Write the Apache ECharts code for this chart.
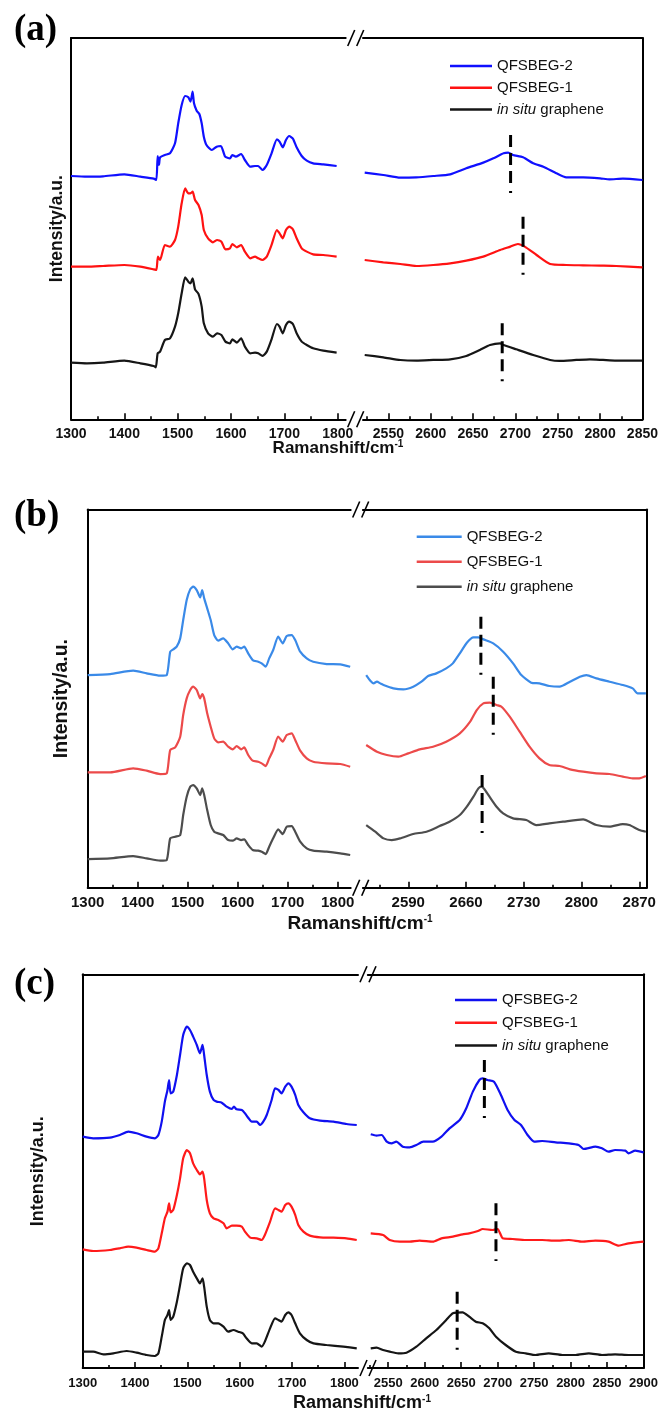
<!DOCTYPE html>
<html><head><meta charset="utf-8">
<script src="https://cdn.jsdelivr.net/npm/echarts@6.0.0/dist/echarts.min.js"></script>
<style>html,body{margin:0;padding:0;background:#fff}#c{width:661px;height:1416px}</style>
</head><body><div id="c"></div>
<script>
// ---------- DATA (x: Raman shift cm-1, y: intensity a.u. with vertical offsets) ----------
const seriesNames = ['QFSBEG-2', 'QFSBEG-1', 'in situ graphene'];

// Panel (a)
const a_ticks_left = [1300, 1400, 1500, 1600, 1700, 1800];
const a_minor_left = [1350, 1450, 1550, 1650, 1750];
const a_ticks_right = [2550, 2600, 2650, 2700, 2750, 2800, 2850];
const a_minor_right = [2525, 2575, 2625, 2675, 2725, 2775, 2825];
const a_blue_left = [[1300,730],[1330,728],[1360,729],[1400,735],[1430,728],[1455,722],[1460,718],[1462.5,790],[1465,763],[1467,786],[1476,793],[1485.6,798],[1495,828],[1501,888],[1507.5,943],[1514,970],[1520,966],[1524,953],[1528,983],[1530.6,948],[1535.6,926],[1540.6,916],[1545,888],[1549,848],[1554,823],[1564,808],[1573,818],[1581,820],[1589,788],[1598,783],[1602.5,793],[1609,788],[1619,796],[1626,778],[1636,758],[1645,760],[1651,760],[1659,748],[1667,763],[1676,798],[1686,840],[1691,833],[1697,816],[1703,838],[1709,850],[1716,842],[1723,816],[1732.5,790],[1742,776],[1754,768],[1773,765],[1798,760]];
const a_red_left = [[1300,458],[1330,458],[1360,460],[1400,463],[1430,458],[1455,450],[1460,448],[1463,488],[1467,478],[1476,523],[1485.6,518],[1495,538],[1501,578],[1507.5,648],[1514,693],[1520,678],[1524,678],[1528,683],[1532.5,658],[1539,643],[1545,613],[1549,568],[1557,543],[1566,531],[1574,538],[1582,533],[1589.5,510],[1598,513],[1602.5,526],[1611,516],[1619,523],[1626,503],[1636,483],[1645,488],[1651,483],[1659,478],[1667,488],[1676,523],[1686,568],[1691,558],[1697,543],[1703,568],[1709,578],[1716,570],[1723,543],[1732.5,513],[1742,503],[1754,495],[1773,493],[1798,488]];
const a_black_left = [[1300,170],[1330,168],[1360,170],[1400,176],[1430,168],[1455,160],[1459,156],[1462.5,198],[1467,203],[1476,238],[1485.6,243],[1495,278],[1501,318],[1507.5,378],[1514,426],[1520,413],[1524,408],[1528,423],[1532.5,390],[1539,376],[1545,338],[1549,288],[1557,258],[1566,248],[1574,258],[1582,253],[1589.5,233],[1598,228],[1602.5,240],[1611,230],[1619,243],[1626,218],[1636,198],[1645,200],[1651,198],[1659,190],[1667,203],[1676,240],[1686,286],[1691,278],[1697,258],[1703,283],[1709,293],[1716,286],[1723,258],[1732.5,233],[1742,223],[1754,213],[1773,206],[1798,200]];
const a_blue_right = [[2522,740],[2544,733],[2564,725],[2583,726],[2603,730],[2623,735],[2642,753],[2662,770],[2674,783],[2686,798],[2691.5,800],[2697,793],[2709,786],[2721,768],[2733,758],[2748.5,738],[2760,726],[2780,726],[2800,723],[2811,720],[2827,722],[2850,718]];
const a_red_right = [[2522,478],[2544,471],[2564,466],[2583,460],[2603,463],[2623,468],[2642,476],[2662,488],[2682,508],[2694,518],[2703,526],[2711,518],[2725,493],[2741,466],[2760,463],[2780,462],[2800,461],[2819,460],[2850,456]];
const a_black_right = [[2522,193],[2544,186],[2564,178],[2583,176],[2603,178],[2623,180],[2642,190],[2658,208],[2670,223],[2682,228],[2686,223],[2701,210],[2721,193],[2741,178],[2752,175],[2772,178],[2788,180],[2803.5,178],[2819,176],[2850,176]];
const a_peaks = [[2694.3,853,678],[2709,608,428],[2684.4,288,108]]; // [shift, top, bottom]

// Panel (b)
const b_ticks_left = [1300, 1400, 1500, 1600, 1700, 1800];
const b_minor_left = [1350, 1450, 1550, 1650, 1750];
const b_ticks_right = [2590, 2660, 2730, 2800, 2870];
const b_minor_right = [2555, 2625, 2695, 2765, 2835];
const b_blue_left = [[1300,638],[1345,641],[1391,651],[1418,643],[1445,636],[1458,638],[1465,708],[1471,715],[1478,723],[1485,748],[1491,803],[1498,863],[1505,895],[1511,903],[1518,893],[1525,871],[1529,893],[1533,868],[1539,838],[1546,803],[1553,758],[1561,741],[1571,748],[1581,733],[1590,715],[1598,723],[1607,718],[1613,723],[1621,703],[1630,683],[1641,678],[1648,673],[1656,663],[1663,688],[1671,713],[1681,753],[1690,733],[1698,755],[1708,758],[1715,743],[1725,708],[1738,688],[1751,678],[1778,671],[1805,670],[1825,663]];
const b_red_left = [[1300,346],[1345,346],[1391,358],[1418,351],[1445,341],[1458,343],[1465,413],[1475,421],[1485,453],[1491,518],[1498,568],[1505,593],[1511,603],[1518,593],[1525,568],[1529,581],[1533,568],[1539,523],[1546,483],[1553,448],[1561,436],[1571,438],[1581,423],[1590,415],[1598,425],[1607,415],[1613,421],[1621,398],[1630,381],[1641,378],[1648,373],[1656,365],[1663,388],[1671,413],[1681,453],[1690,438],[1698,458],[1708,463],[1715,443],[1725,411],[1738,388],[1751,378],[1778,373],[1805,371],[1825,363]];
const b_black_left = [[1300,86],[1345,88],[1391,95],[1418,88],[1445,81],[1458,83],[1465,148],[1475,153],[1485,158],[1491,218],[1498,273],[1505,303],[1511,308],[1518,298],[1525,278],[1529,298],[1533,278],[1539,233],[1546,188],[1553,168],[1561,163],[1571,158],[1581,143],[1590,141],[1598,148],[1607,143],[1613,145],[1621,128],[1630,113],[1641,111],[1648,108],[1656,101],[1663,123],[1671,148],[1681,175],[1690,161],[1698,183],[1708,185],[1715,168],[1725,138],[1738,118],[1751,111],[1778,108],[1805,103],[1825,98]];
const b_blue_right = [[2539,638],[2544,621],[2548,613],[2552,618],[2556,613],[2560,608],[2572,598],[2584,595],[2596,603],[2606,618],[2614,635],[2624,643],[2636,658],[2644,673],[2652.5,703],[2661,735],[2669,751],[2675,751],[2681,745],[2693,733],[2705,708],[2717,673],[2727,638],[2739,615],[2749,613],[2761,605],[2773.5,603],[2786,618],[2798,633],[2806,638],[2818,628],[2834,618],[2850,608],[2862,598],[2868,583],[2878,583]];
const b_red_right = [[2539,428],[2552,408],[2564,398],[2578,393],[2590,403],[2604,415],[2620,423],[2636,438],[2652.5,463],[2665,498],[2673,533],[2681,553],[2689,555],[2697,548],[2703,543],[2713,513],[2725,468],[2737,423],[2749,388],[2761,368],[2773.5,365],[2786,355],[2802,348],[2818,343],[2834,341],[2850,333],[2862,328],[2870,328],[2878,335]];
const b_black_right = [[2539,188],[2550,168],[2560,148],[2570,143],[2580,148],[2596,161],[2612,168],[2628,185],[2640,198],[2652.5,218],[2661,243],[2669,273],[2675,298],[2679,303],[2683,293],[2689,271],[2697,243],[2705,223],[2717,208],[2733,203],[2745,188],[2761,193],[2777.6,198],[2802,205],[2818,188],[2834,183],[2850,191],[2858,188],[2870,173],[2878,168]];
const b_peaks = [[2678,813,638],[2693,633,458],[2679.5,338,163]];

// Panel (c)
const c_ticks_left = [1300, 1400, 1500, 1600, 1700, 1800];
const c_minor_left = [1350, 1450, 1550, 1650, 1750];
const c_ticks_right = [2550, 2600, 2650, 2700, 2750, 2800, 2850, 2900];
const c_minor_right = [2525, 2575, 2625, 2675, 2725, 2775, 2825, 2875];
const c_blue_left = [[1300,694],[1320,689],[1352,691],[1371,699],[1387,709],[1403,704],[1422,694],[1438,689],[1444.6,699],[1451,739],[1457,799],[1462,834],[1465,864],[1468,824],[1473,829],[1480,879],[1486,939],[1492,999],[1499,1024],[1505,1014],[1511,994],[1518,969],[1524,944],[1529,969],[1532,939],[1537,879],[1543,829],[1550,804],[1556,799],[1565.6,796],[1575,784],[1585,777],[1589,784],[1594,776],[1604,774],[1610,764],[1617,749],[1623,739],[1632.5,739],[1639,729],[1645,739],[1651.6,759],[1661,804],[1667.5,839],[1674,834],[1680,824],[1687,844],[1693,854],[1699,844],[1706,819],[1712,789],[1721.7,767],[1734,749],[1753.5,742],[1779,739],[1804,732],[1823.6,729]];
const c_red_left = [[1300,356],[1320,351],[1352,354],[1371,359],[1387,364],[1403,361],[1422,354],[1438,349],[1444.6,359],[1451,404],[1457,449],[1462,469],[1465,494],[1468,467],[1473,474],[1480,519],[1486,569],[1492,629],[1499,654],[1505,644],[1511,614],[1518,594],[1524,581],[1529,589],[1532,569],[1537,504],[1543,464],[1550,449],[1559,444],[1569,434],[1575,419],[1585,427],[1594,427],[1604,424],[1610,409],[1620,391],[1632.5,389],[1642,384],[1648,399],[1658,439],[1667.5,479],[1674,474],[1680,469],[1687,489],[1693,494],[1699,484],[1706,459],[1712,429],[1721.7,409],[1734,397],[1753.5,392],[1779,391],[1804,389],[1823.6,384]];
const c_black_left = [[1300,49],[1320,49],[1339.5,41],[1358.6,44],[1384,51],[1403,46],[1422,39],[1438,36],[1444.6,44],[1451,94],[1457,144],[1462,159],[1465,174],[1468,144],[1473,154],[1480,199],[1486,249],[1492,299],[1499,314],[1505,309],[1511,289],[1518,269],[1524,254],[1529,269],[1532,244],[1537,184],[1543,144],[1550,134],[1559,134],[1569,124],[1578,109],[1588,114],[1597,109],[1606,104],[1613,89],[1623,74],[1632.5,74],[1642,64],[1648,79],[1658,119],[1667.5,149],[1674,144],[1680,139],[1687,159],[1693,167],[1699,159],[1706,134],[1715,104],[1728,84],[1741,74],[1766,69],[1798,64],[1823.6,59]];
const c_blue_right = [[2526,701],[2534,697],[2541,699],[2548,679],[2554.5,674],[2561,679],[2570,664],[2579.5,662],[2588.6,669],[2598,679],[2611,679],[2623,694],[2634,719],[2648,744],[2657,779],[2666,829],[2675,864],[2679.5,869],[2686,864],[2695,859],[2704.5,819],[2713.6,774],[2723,744],[2732,729],[2741,699],[2750,679],[2761,681],[2779.5,677],[2797.7,674],[2811,669],[2818,657],[2834,664],[2843,659],[2852,649],[2861,654],[2875,652],[2879.5,644],[2888.6,652],[2900,647]];
const c_red_right = [[2526,404],[2543,399],[2552,384],[2566,379],[2579.5,379],[2593,382],[2611,379],[2623,389],[2638.6,394],[2652,401],[2661,404],[2673,411],[2679.5,417],[2693,414],[2700,417],[2707,389],[2720.5,387],[2738.6,384],[2761,384],[2779.5,382],[2797.7,384],[2816,379],[2834,382],[2852,379],[2866,367],[2879.5,374],[2900,379]];
const c_black_right = [[2526,59],[2534,61],[2543,54],[2552,49],[2563.6,44],[2575,46],[2588.6,64],[2602,89],[2616,114],[2629.5,144],[2638.6,164],[2652,167],[2661,154],[2670,139],[2679.5,134],[2688.6,119],[2697.7,94],[2711,69],[2725,49],[2738.6,44],[2752,39],[2770,44],[2788.6,39],[2807,39],[2825,44],[2843,39],[2861,41],[2879.5,39],[2900,39]];
const c_peaks = [[2681.8,924,749],[2697.7,494,321],[2644.5,229,54]];

// ---------- LAYOUT / STYLE ----------
const FONT = '"Liberation Sans", Arial, Helvetica, sans-serif';
const panels = [
  { label: '(a)', colors: ['#1010ff', '#ff1212', '#161616'],
    left: [a_blue_left, a_red_left, a_black_left], right: [a_blue_right, a_red_right, a_black_right],
    peaks: a_peaks, tL: a_ticks_left, mL: a_minor_left, tR: a_ticks_right, mR: a_minor_right,
    xL: [1300, 1815], xR: [2520, 2850], yMax: 1144,
    box: { top: 38, bottom: 419.3, l1: 71, r1: 345.7, l2: 363, r2: 642.7 },
    legend: { left: 450, top: 58.5, w: 42, gap: 6.7 }, nameGap: 5, yf: 17.5, title: [338, 448], xf: 17,
    lab: [14, 12], margin: 8, tf: 14 },
  { label: '(b)', colors: ['#3a8ae8', '#ec4a4a', '#4d4d4d'],
    left: [b_blue_left, b_red_left, b_black_left], right: [b_blue_right, b_red_right, b_black_right],
    peaks: b_peaks, tL: b_ticks_left, mL: b_minor_left, tR: b_ticks_right, mR: b_minor_right,
    xL: [1300, 1826], xR: [2535, 2879], yMax: 1134.6,
    box: { top: 509.5, bottom: 887.7, l1: 87.7, r1: 350.7, l2: 362.9, r2: 646.7 },
    legend: { left: 416.7, top: 529.2, w: 45, gap: 10 }, nameGap: 16, yf: 19.5, title: [360, 924], xf: 19,
    lab: [14, 498], margin: 8, tf: 15 },
  { label: '(c)', colors: ['#1010f0', '#ff1a1a', '#151515'],
    left: [c_blue_left, c_red_left, c_black_left], right: [c_blue_right, c_red_right, c_black_right],
    peaks: c_peaks, tL: c_ticks_left, mL: c_minor_left, tR: c_ticks_right, mR: c_minor_right,
    xL: [1300, 1826], xR: [2522, 2900], yMax: 1181,
    box: { top: 974.3, bottom: 1368, l1: 82.7, r1: 358, l2: 367.8, r2: 645 },
    legend: { left: 455, top: 992.5, w: 42, gap: 7.8 }, nameGap: 35.5, yf: 18, title: [362, 1403], xf: 18,
    lab: [14, 966], margin: 9, tf: 13 }
];

const grid = [], xAxis = [], yAxis = [], series = [], legend = [], graphic = [];
const axisLineStyle = { color: '#000', width: 2 };

panels.forEach((p, pi) => {
  const b = p.box, h = b.bottom - b.top;
  const sides = [
    { l: b.l1, r: b.r1, range: p.xL, ticks: p.tL, minor: p.mL, data: p.left, ypos: 'left' },
    { l: b.l2, r: b.r2, range: p.xR, ticks: p.tR, minor: p.mR, data: p.right, ypos: 'right' }
  ];
  sides.forEach((s, si) => {
    const gi = grid.length;
    grid.push({ left: s.l, top: b.top, width: s.r - s.l, height: h, containLabel: false });
    const xi = xAxis.length;
    xAxis.push({
      type: 'value', gridIndex: gi, position: 'bottom', min: s.range[0], max: s.range[1],
      axisLine: { show: true, onZero: false, lineStyle: axisLineStyle },
      axisTick: { show: true, inside: true, length: 6, customValues: s.ticks, lineStyle: { color: '#000', width: 1.6 } },
      axisLabel: { show: true, customValues: s.ticks, margin: p.margin, formatter: v => String(v),
        color: '#111', fontFamily: FONT, fontWeight: 'bold', fontSize: p.tf },
      splitLine: { show: false }
    });
    xAxis.push({
      type: 'value', gridIndex: gi, position: 'bottom', min: s.range[0], max: s.range[1],
      axisLine: { show: false, onZero: false },
      axisTick: { show: true, inside: true, length: 3, customValues: s.minor, lineStyle: { color: '#000', width: 1.6 } },
      axisLabel: { show: false }, splitLine: { show: false }
    });
    xAxis.push({
      type: 'value', gridIndex: gi, position: 'top', min: s.range[0], max: s.range[1],
      axisLine: { show: true, onZero: false, lineStyle: axisLineStyle },
      axisTick: { show: false }, axisLabel: { show: false }, splitLine: { show: false }
    });
    const yi = yAxis.length;
    yAxis.push({
      type: 'value', gridIndex: gi, position: s.ypos, min: 0, max: p.yMax,
      axisLine: { show: true, onZero: false, lineStyle: axisLineStyle },
      axisTick: { show: false }, axisLabel: { show: false }, splitLine: { show: false },
      name: si === 0 ? 'Intensity/a.u.' : '', nameLocation: 'middle', nameRotate: 90, nameGap: p.nameGap,
      nameTextStyle: { fontFamily: FONT, fontWeight: 'bold', fontSize: p.yf, color: '#111' }
    });
    s.data.forEach((d, k) => {
      series.push({
        type: 'line', name: seriesNames[k] + ' '.repeat(pi), xAxisIndex: xi, yAxisIndex: yi,
        data: d, symbol: 'none', showSymbol: false, smooth: 0.2, clip: true,
        lineStyle: { color: p.colors[k], width: 2.2 }, itemStyle: { color: p.colors[k] },
        silent: true, z: 3
      });
    });
    if (si === 1) {
      p.peaks.forEach((pk, k) => {
        series.push({
          type: 'line', name: 'peak-' + pi + '-' + k, xAxisIndex: xi, yAxisIndex: yi,
          data: [[pk[0], pk[1]], [pk[0], pk[2]]], symbol: 'none', showSymbol: false, silent: true, z: 4,
          lineStyle: { color: '#000', width: 3, type: [12, 6, 12, 6, 12, 8, 2, 80] }
        });
      });
    }
  });
  // legend
  legend.push({
    orient: 'vertical', left: p.legend.left, top: p.legend.top, padding: 0,
    icon: 'rect', itemWidth: p.legend.w, itemHeight: 2.5, itemGap: p.legend.gap, selectedMode: false,
    data: seriesNames.map(n => n + ' '.repeat(pi)),
    formatter: name => {
      const n = name.trim();
      return n === 'in situ graphene' ? '{it|in situ} {rg|graphene}' : '{rg|' + n + '}';
    },
    textStyle: {
      fontFamily: FONT, fontSize: 15, color: '#111',
      rich: { it: { fontFamily: FONT, fontSize: 15, fontStyle: 'italic', color: '#111' },
              rg: { fontFamily: FONT, fontSize: 15, color: '#111' } }
    }
  });
  // panel label
  graphic.push({ type: 'text', x: p.lab[0], y: p.lab[1],
    style: { text: p.label, font: 'bold 37px "Liberation Serif", "Times New Roman", serif', fill: '#000' } });
  // x-axis title
  graphic.push({ type: 'text', x: p.title[0], y: p.title[1],
    style: { text: '{a|Ramanshift/cm}{s|-1}', align: 'center', verticalAlign: 'middle',
      rich: { a: { fontFamily: FONT, fontWeight: 'bold', fontSize: p.xf, fill: '#111', color: '#111' },
              s: { fontFamily: FONT, fontWeight: 'bold', fontSize: 10, verticalAlign: 'top', color: '#111', fill: '#111' } } } });
  // axis break marks "//"
  [b.top, b.bottom].forEach(y => {
    [0, 9].forEach(dx => {
      graphic.push({ type: 'line', shape: { x1: b.r1 + 2 + dx, y1: y + 8, x2: b.r1 + 9 + dx, y2: y - 8 },
        style: { stroke: '#000', lineWidth: 1.6 } });
    });
  });
});

const chart = echarts.init(document.getElementById('c'), null, { renderer: 'canvas' });
chart.setOption({
  backgroundColor: '#fff', animation: false,
  grid, xAxis, yAxis, series, legend, graphic
});
</script></body></html>
